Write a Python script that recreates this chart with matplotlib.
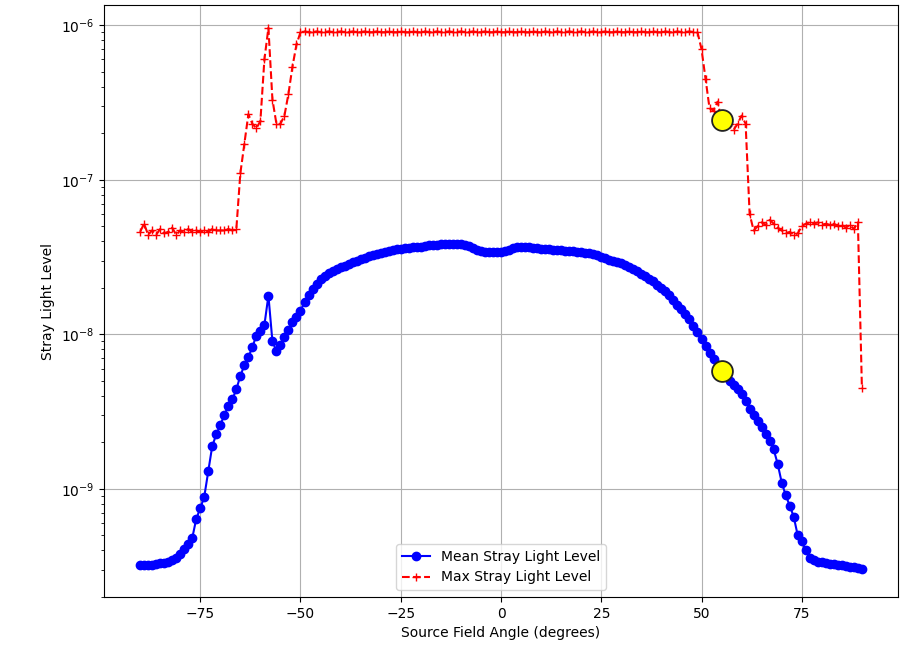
import numpy as np
import matplotlib
matplotlib.use("Agg")
import matplotlib.pyplot as plt

# source field angle, 1 degree steps
Angles = np.arange(-90, 91)

# mean stray light level per angle
Mean_Level = [
    3.2e-10, 3.2e-10, 3.2e-10, 3.2e-10, 3.25e-10, 3.3e-10, 3.3e-10, 3.35e-10, 3.45e-10, 3.6e-10,
    3.8e-10, 4.1e-10, 4.4e-10, 4.8e-10, 6.4e-10, 7.5e-10, 8.9e-10, 1.3e-9, 1.9e-9, 2.25e-9,
    2.6e-9, 3.0e-9, 3.45e-9, 3.8e-9, 4.4e-9, 5.4e-9, 6.3e-9, 7.1e-9, 8.3e-9, 9.8e-9,
    1.05e-8, 1.15e-8, 1.78e-8, 9.0e-9, 7.8e-9, 8.5e-9, 9.6e-9, 1.07e-8, 1.2e-8, 1.3e-8,
    1.42e-8, 1.62e-8, 1.8e-8, 1.97e-8, 2.12e-8, 2.28e-8, 2.4e-8, 2.5e-8, 2.58e-8, 2.65e-8,
    2.72e-8, 2.78e-8, 2.85e-8, 2.92e-8, 2.98e-8, 3.05e-8, 3.12e-8, 3.2e-8, 3.26e-8, 3.32e-8,
    3.38e-8, 3.42e-8, 3.46e-8, 3.5e-8, 3.54e-8, 3.57e-8, 3.6e-8, 3.63e-8, 3.66e-8, 3.68e-8,
    3.7e-8, 3.73e-8, 3.76e-8, 3.78e-8, 3.8e-8, 3.82e-8, 3.84e-8, 3.85e-8, 3.85e-8, 3.84e-8,
    3.82e-8, 3.78e-8, 3.72e-8, 3.62e-8, 3.53e-8, 3.47e-8, 3.43e-8, 3.41e-8, 3.4e-8, 3.4e-8,
    3.41e-8, 3.45e-8, 3.52e-8, 3.6e-8, 3.65e-8, 3.68e-8, 3.68e-8, 3.66e-8, 3.63e-8, 3.6e-8,
    3.58e-8, 3.56e-8, 3.54e-8, 3.52e-8, 3.5e-8, 3.49e-8, 3.47e-8, 3.46e-8, 3.44e-8, 3.42e-8,
    3.4e-8, 3.38e-8, 3.34e-8, 3.3e-8, 3.24e-8, 3.17e-8, 3.1e-8, 3.04e-8, 2.98e-8, 2.94e-8,
    2.9e-8, 2.82e-8, 2.74e-8, 2.65e-8, 2.56e-8, 2.47e-8, 2.38e-8, 2.29e-8, 2.2e-8, 2.1e-8,
    2.0e-8, 1.9e-8, 1.81e-8, 1.67e-8, 1.55e-8, 1.45e-8, 1.35e-8, 1.25e-8, 1.13e-8, 1.03e-8,
    9.3e-9, 8.4e-9, 7.6e-9, 6.9e-9, 6.3e-9, 5.8e-9, 5.4e-9, 5.0e-9, 4.7e-9, 4.45e-9,
    4.1e-9, 3.7e-9, 3.3e-9, 3.0e-9, 2.75e-9, 2.5e-9, 2.25e-9, 2.05e-9, 1.8e-9, 1.45e-9,
    1.1e-9, 9.1e-10, 7.8e-10, 6.6e-10, 5.0e-10, 4.6e-10, 4.0e-10, 3.6e-10, 3.45e-10, 3.38e-10,
    3.35e-10, 3.3e-10, 3.28e-10, 3.25e-10, 3.22e-10, 3.2e-10, 3.17e-10, 3.15e-10, 3.12e-10, 3.1e-10,
    3.05e-10,
]

# max stray light level per angle
Max_Level = [
    4.6e-8, 5.2e-8, 4.4e-8, 4.7e-8, 4.4e-8, 4.8e-8, 4.5e-8, 4.6e-8, 4.9e-8, 4.4e-8,
    4.7e-8, 4.6e-8, 4.8e-8, 4.6e-8, 4.7e-8, 4.6e-8, 4.7e-8, 4.6e-8, 4.8e-8, 4.7e-8,
    4.7e-8, 4.7e-8, 4.8e-8, 4.7e-8, 4.8e-8, 1.1e-7, 1.7e-7, 2.65e-7, 2.3e-7, 2.15e-7,
    2.4e-7, 6.0e-7, 9.6e-7, 3.3e-7, 2.3e-7, 2.3e-7, 2.6e-7, 3.6e-7, 5.4e-7, 7.5e-7,
    9.0e-7, 9.1e-7, 9.0e-7, 9.0e-7, 9.1e-7, 9.0e-7, 9.0e-7, 9.1e-7, 9.0e-7, 9.0e-7,
    9.1e-7, 9.0e-7, 9.0e-7, 9.1e-7, 9.0e-7, 9.0e-7, 9.1e-7, 9.0e-7, 9.0e-7, 9.1e-7,
    9.0e-7, 9.0e-7, 9.1e-7, 9.0e-7, 9.0e-7, 9.1e-7, 9.0e-7, 9.0e-7, 9.1e-7, 9.0e-7,
    9.0e-7, 9.1e-7, 9.0e-7, 9.0e-7, 9.1e-7, 9.0e-7, 9.0e-7, 9.1e-7, 9.0e-7, 9.0e-7,
    9.1e-7, 9.0e-7, 9.0e-7, 9.1e-7, 9.0e-7, 9.0e-7, 9.1e-7, 9.0e-7, 9.0e-7, 9.1e-7,
    9.0e-7, 9.0e-7, 9.1e-7, 9.0e-7, 9.0e-7, 9.1e-7, 9.0e-7, 9.0e-7, 9.1e-7, 9.0e-7,
    9.0e-7, 9.1e-7, 9.0e-7, 9.0e-7, 9.1e-7, 9.0e-7, 9.0e-7, 9.1e-7, 9.0e-7, 9.0e-7,
    9.1e-7, 9.0e-7, 9.0e-7, 9.1e-7, 9.0e-7, 9.0e-7, 9.1e-7, 9.0e-7, 9.0e-7, 9.1e-7,
    9.0e-7, 9.0e-7, 9.1e-7, 9.0e-7, 9.0e-7, 9.1e-7, 9.0e-7, 9.0e-7, 9.1e-7, 9.0e-7,
    9.0e-7, 9.1e-7, 9.0e-7, 9.0e-7, 9.1e-7, 9.0e-7, 9.0e-7, 9.1e-7, 9.0e-7, 9.0e-7,
    7.0e-7, 4.5e-7, 2.9e-7, 2.8e-7, 3.2e-7, 2.45e-7, 2.6e-7, 2.3e-7, 2.1e-7, 2.3e-7,
    2.6e-7, 2.3e-7, 6.0e-8, 4.7e-8, 5.0e-8, 5.3e-8, 5.1e-8, 5.5e-8, 5.2e-8, 4.9e-8,
    4.7e-8, 4.5e-8, 4.6e-8, 4.4e-8, 4.5e-8, 5.0e-8, 5.2e-8, 5.3e-8, 5.2e-8, 5.3e-8,
    5.1e-8, 5.2e-8, 5.1e-8, 5.2e-8, 5.0e-8, 5.1e-8, 4.9e-8, 5.1e-8, 4.8e-8, 5.3e-8,
    4.5e-9,
]

# highlighted angle
Highlight_Angle = 55

Mean_Level = np.array(Mean_Level)
Max_Level = np.array(Max_Level)
idx = list(Angles).index(Highlight_Angle)

fig, ax = plt.subplots(figsize=(9.02, 6.55), dpi=100)
fig.subplots_adjust(left=104/902, right=898/902, top=1-5/655, bottom=1-597/655)

ax.plot(Angles, Mean_Level, 'bo-', label="Mean Stray Light Level")
ax.plot(Angles, Max_Level, 'r+--', label="Max Stray Light Level")
ax.plot([Highlight_Angle, Highlight_Angle], [Mean_Level[idx], Max_Level[idx]], 'o',
        markersize=15, markerfacecolor='yellow', markeredgecolor='#222222',
        markeredgewidth=1.3, zorder=5)

ax.set_yscale('log')
ax.set_ylim(2.0e-10, 1.35e-6)
ax.set_xlabel("Source Field Angle (degrees)")
ax.set_ylabel("Stray Light Level")
ax.grid(True)
ax.legend(loc='lower center')

fig.savefig("out.png", dpi=100)
